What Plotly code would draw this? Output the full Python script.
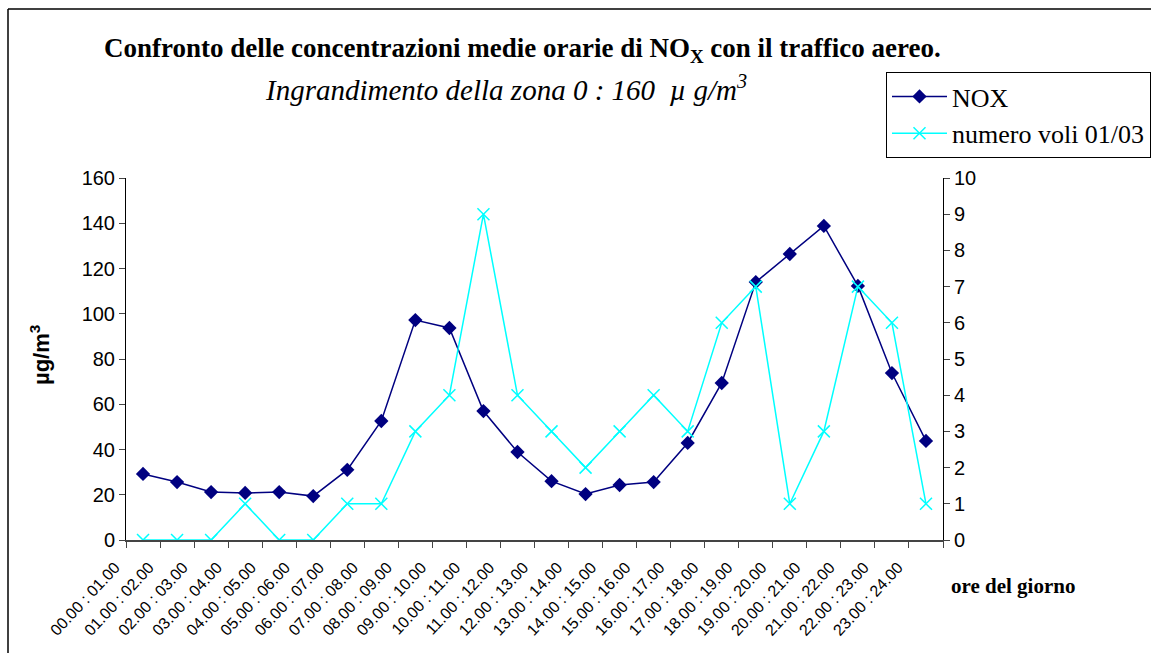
import plotly.graph_objects as go

# fasce orarie (categorie asse x)
hours = [f"{h:02d}.00 : {h + 1:02d}.00" for h in range(24)]

# concentrazioni medie orarie di NOx (µg/m3)
nox = [29.2, 25.6, 21.2, 20.8, 21.2, 19.4, 31.0, 52.6, 97.2, 93.7, 57.0, 38.9,
       26.0, 20.3, 24.3, 25.6, 42.9, 69.4, 114.0, 126.4, 138.8, 112.3, 73.8, 43.8]

# numero voli 01/03
flights = [0, 0, 0, 1, 0, 0, 1, 1, 3, 4, 9, 4, 3, 2, 3, 4, 3, 6, 7, 1, 3, 7, 6, 1]

W, H = 1151, 653
L, R, T, B = 126, 208, 178, 113
pw, ph = W - L - R, H - T - B
SERIF = "Liberation Serif, Times New Roman"


def px(x):
    return (x - L) / pw


def py(y):
    return (H - B - y) / ph


fig = go.Figure()
fig.add_trace(go.Scatter(x=hours, y=nox, name="NOX", mode="lines+markers",
                         line=dict(color="#000080", width=1.5),
                         marker=dict(symbol="diamond", size=11, color="#000080")))
fig.add_trace(go.Scatter(x=hours, y=flights, name="numero voli 01/03", mode="lines+markers",
                         yaxis="y2",
                         line=dict(color="#00FFFF", width=1.5),
                         marker=dict(symbol="x-thin", size=12,
                                     line=dict(color="#00FFFF", width=1.5))))

fig.update_layout(
    width=W, height=H,
    margin=dict(l=L, r=R, t=T, b=B, autoexpand=False),
    paper_bgcolor="white", plot_bgcolor="white",
    font=dict(family="Liberation Sans, Arial", color="black"),
    showlegend=True,
    legend=dict(x=px(886), y=py(72), xanchor="left", yanchor="top",
                bordercolor="black", borderwidth=1,
                font=dict(family=SERIF, size=26),
                itemwidth=55, tracegroupgap=0),
    xaxis=dict(type="category", range=[-0.5, 23.5], tickangle=-47, tickfont=dict(size=16),
               ticklabelshift=-28, ticklabelstandoff=10,
               showline=True, linecolor="#444", linewidth=1.5,
               ticks="outside", tickson="boundaries", ticklen=6, tickcolor="#444",
               showgrid=False, zeroline=False, automargin=False),
    yaxis=dict(range=[0, 160], dtick=20, tickfont=dict(size=20),
               showline=True, linecolor="black", linewidth=1,
               ticks="outside", ticklen=6, showgrid=False, zeroline=False,
               automargin=False),
    yaxis2=dict(range=[0, 10], dtick=1, overlaying="y", side="right",
                tickfont=dict(size=20),
                showline=True, linecolor="black", linewidth=1,
                ticks="outside", ticklen=6, showgrid=False, zeroline=False,
                automargin=False),
)

fig.add_annotation(text="<b>Confronto delle concentrazioni medie orarie di NO<sub>X</sub> con il traffico aereo.</b>",
                   xref="paper", yref="paper", x=px(522), y=py(50),
                   xanchor="center", yanchor="middle", showarrow=False,
                   font=dict(family=SERIF, size=27))
fig.add_annotation(text="<i>Ingrandimento della zona 0 : 160  µ g/m<sup>3</sup></i>",
                   xref="paper", yref="paper", x=px(506), y=py(88),
                   xanchor="center", yanchor="middle", showarrow=False,
                   font=dict(family=SERIF, size=29))
fig.add_annotation(text="<b>ore del giorno</b>",
                   xref="paper", yref="paper", x=px(949), y=py(586),
                   xanchor="left", yanchor="middle", showarrow=False,
                   font=dict(family=SERIF, size=21))
fig.add_annotation(text="<b>µg/m<sup>3</sup></b>", textangle=-90,
                   xref="paper", yref="paper", x=px(40), y=py(355),
                   xanchor="center", yanchor="middle", showarrow=False,
                   font=dict(size=22))

# cornice del grafico
fig.add_shape(type="line", xref="paper", yref="paper", x0=px(8), x1=px(8), y0=py(9), y1=py(H + 5),
              line=dict(color="black", width=1.5))
fig.add_shape(type="line", xref="paper", yref="paper", x0=px(8), x1=px(W + 5), y0=py(9), y1=py(9),
              line=dict(color="black", width=1.5))

fig.write_html("out.html", config={"displayModeBar": False},
               post_script="document.body.style.margin='0';")
